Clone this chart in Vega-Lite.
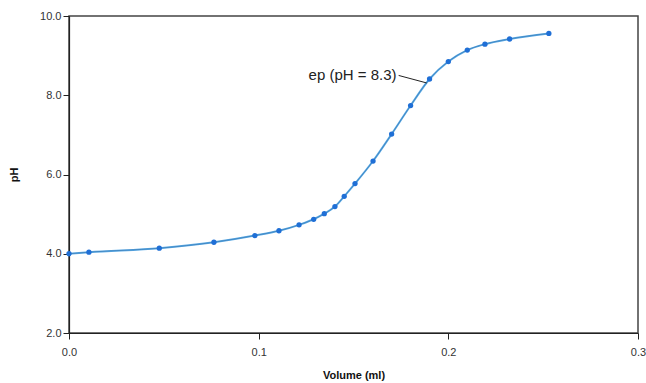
{
  "$schema": "https://vega.github.io/schema/vega-lite/v6.json",
  "width": 569,
  "height": 317,
  "autosize": "none",
  "padding": {"left": 69, "top": 16, "right": 8, "bottom": 50},
  "background": "white",
  "config": {
    "font": "Liberation Sans",
    "view": {"stroke": "#444444", "strokeWidth": 1.5},
    "axis": {
      "grid": false,
      "domainColor": "#222222",
      "domainWidth": 1.2,
      "tickColor": "#222222",
      "labelColor": "#333333",
      "labelFont": "Liberation Sans",
      "labelFontSize": 11,
      "labelFlush": false,
      "titleFont": "Liberation Sans",
      "titleFontSize": 11,
      "titleFontWeight": "bold",
      "titleColor": "#111111",
      "tickSize": 6
    }
  },
  "datasets": {
    "curve": [
      {"v": 0.0, "ph": 4.0},
      {"v": 0.0105, "ph": 4.04},
      {"v": 0.0476, "ph": 4.14},
      {"v": 0.0764, "ph": 4.29},
      {"v": 0.098, "ph": 4.46},
      {"v": 0.1107, "ph": 4.58},
      {"v": 0.1213, "ph": 4.73},
      {"v": 0.129, "ph": 4.87},
      {"v": 0.1346, "ph": 5.01},
      {"v": 0.1402, "ph": 5.19},
      {"v": 0.1451, "ph": 5.45},
      {"v": 0.1508, "ph": 5.77},
      {"v": 0.1603, "ph": 6.34},
      {"v": 0.1701, "ph": 7.02},
      {"v": 0.1801, "ph": 7.74},
      {"v": 0.1901, "ph": 8.41},
      {"v": 0.2, "ph": 8.85},
      {"v": 0.21, "ph": 9.14},
      {"v": 0.2193, "ph": 9.29},
      {"v": 0.2323, "ph": 9.42},
      {"v": 0.253, "ph": 9.56}
    ],
    "leader": [
      {"v": 0.1738, "ph": 8.5},
      {"v": 0.1886, "ph": 8.31}
    ],
    "note": [
      {"v": 0.1727, "ph": 8.52, "label": "ep (pH = 8.3)"}
    ]
  },
  "layer": [
    {
      "data": {"name": "curve"},
      "mark": {"type": "line", "color": "#5aaae6", "strokeWidth": 2, "interpolate": "monotone"},
      "encoding": {
        "x": {
          "field": "v", "type": "quantitative", "title": "Volume (ml)",
          "scale": {"domain": [0, 0.3], "nice": false},
          "axis": {"values": [0, 0.1, 0.2, 0.3], "format": ".1f", "titlePadding": 12, "labelPadding": 7}
        },
        "y": {
          "field": "ph", "type": "quantitative", "title": "pH",
          "scale": {"domain": [2, 10], "nice": false, "zero": false},
          "axis": {"values": [2, 4, 6, 8, 10], "format": ".1f", "titlePadding": 20, "labelPadding": 2}
        }
      }
    },
    {
      "data": {"name": "curve"},
      "mark": {"type": "line", "color": "#1d4f86", "strokeWidth": 0.6, "interpolate": "monotone", "opacity": 0.6},
      "encoding": {
        "x": {"field": "v", "type": "quantitative"},
        "y": {"field": "ph", "type": "quantitative"}
      }
    },
    {
      "data": {"name": "curve"},
      "mark": {"type": "circle", "color": "#1f6fd6", "size": 28, "opacity": 1},
      "encoding": {
        "x": {"field": "v", "type": "quantitative"},
        "y": {"field": "ph", "type": "quantitative"}
      }
    },
    {
      "data": {"name": "leader"},
      "mark": {"type": "line", "color": "#222222", "strokeWidth": 1},
      "encoding": {
        "x": {"field": "v", "type": "quantitative"},
        "y": {"field": "ph", "type": "quantitative"}
      }
    },
    {
      "data": {"name": "note"},
      "mark": {"type": "text", "align": "right", "baseline": "middle", "fontSize": 15, "font": "Liberation Sans", "color": "#222222"},
      "encoding": {
        "x": {"field": "v", "type": "quantitative"},
        "y": {"field": "ph", "type": "quantitative"},
        "text": {"field": "label"}
      }
    }
  ]
}
